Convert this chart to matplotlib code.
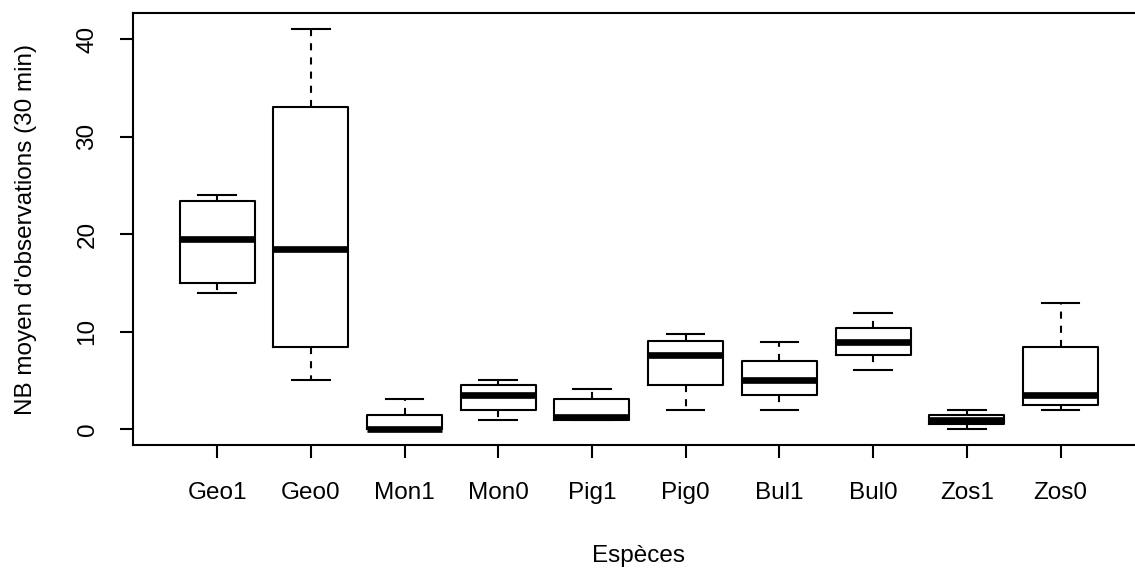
import matplotlib
matplotlib.use("Agg")
import matplotlib.pyplot as plt

plt.rcParams['font.family'] = ['Liberation Sans', 'DejaVu Sans']

especes = ["Geo1", "Geo0", "Mon1", "Mon0", "Pig1", "Pig0", "Bul1", "Bul0", "Zos1", "Zos0"]

# five-number summaries per species (min, Q1, median, Q3, max)
mins = [14.0, 5.1, 0.0, 1.0, 1.0, 2.0, 2.0, 6.1, 0.0, 2.0]
q1s = [15.0, 8.4, 0.0, 2.0, 1.0, 4.5, 3.5, 7.6, 0.5, 2.5]
medians = [19.5, 18.5, 0.0, 3.5, 1.3, 7.6, 5.1, 9.0, 1.0, 3.5]
q3s = [23.4, 33.0, 1.5, 4.5, 3.1, 9.1, 7.0, 10.4, 1.5, 8.4]
maxs = [24.0, 41.0, 3.1, 5.1, 4.1, 9.8, 9.0, 11.9, 2.0, 12.9]

yticks = [0, 10, 20, 30, 40]

stats = []
for lab, lo, a, m, b, hi in zip(especes, mins, q1s, medians, q3s, maxs):
    stats.append(dict(label=lab, whislo=lo, q1=a, med=m, q3=b, whishi=hi, fliers=[]))

fig = plt.figure(figsize=(11.35, 5.71), dpi=100)
ax = fig.add_axes([0.1169, 0.2201, 0.8919, 0.7566])

lw = 1.5
ax.bxp(stats, positions=range(1, len(stats) + 1), widths=0.8, showfliers=False,
       boxprops=dict(color="black", lw=lw),
       medianprops=dict(color="black", lw=4.8, solid_capstyle="butt"),
       whiskerprops=dict(color="black", lw=lw, linestyle=(0, (3.4, 3.4))),
       capprops=dict(color="black", lw=lw))

ax.set_xlim(0.1, 10.9)
ax.set_ylim(-1.64, 42.64)
ax.set_xticks(range(1, len(especes) + 1))
ax.set_xticklabels(especes)
ax.set_yticks(yticks)
ax.set_yticklabels([str(t) for t in yticks], rotation=90, va="center")

for s in ax.spines.values():
    s.set_linewidth(lw)
ax.tick_params(axis="both", length=9.6, width=lw, labelsize=17.5, colors="black")
ax.tick_params(axis="y", pad=15)
ax.tick_params(axis="x", pad=17)

ax.set_xlabel("Espèces", fontsize=17.5, va="center")
ax.set_ylabel("NB moyen d'observations (30 min)", fontsize=17.5, va="center")
ax.xaxis.set_label_coords(0.5, -0.256)
ax.yaxis.set_label_coords(-0.105, 0.5)

fig.savefig("out.png", dpi=100)
